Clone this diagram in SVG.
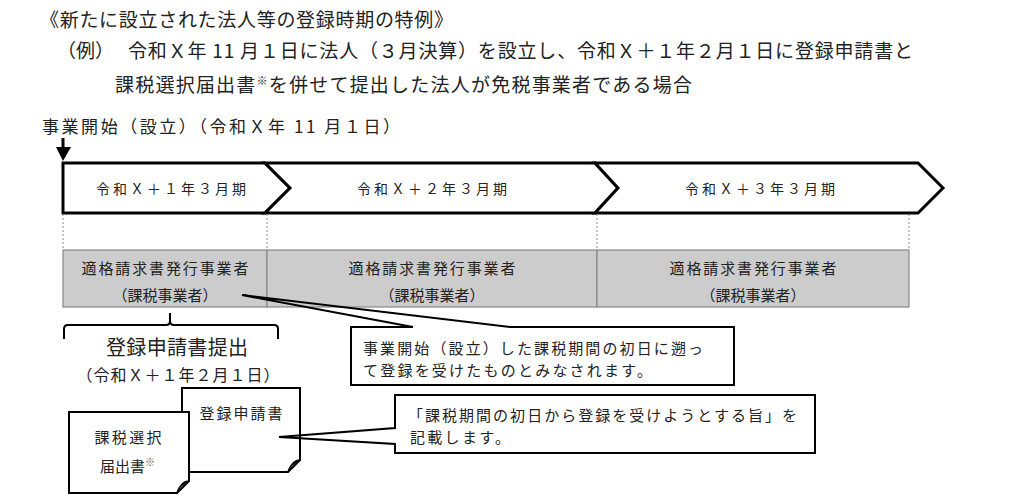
<svg xmlns="http://www.w3.org/2000/svg" width="1024" height="504" viewBox="0 0 1024 504">
<style>
text{font-family:"Noto Sans CJK JP","Noto Sans CJK SC",sans-serif;fill:#222;}
.t18{font-size:19px;}
.t17{font-size:17px;}
.lab{font-size:14px;}
.gb{font-size:15px;}
.chev{fill:#fff;stroke:#000;stroke-width:3;stroke-linejoin:miter;}
.dash{stroke:#888;stroke-width:1;stroke-dasharray:2 2;fill:none;}
.gray{fill:#cccccc;stroke:#888;stroke-width:1.2;}
.ln{fill:none;stroke:#000;stroke-width:2;}
.doc{fill:#fff;stroke:#000;stroke-width:2;stroke-linejoin:miter;}
</style>
<rect width="1024" height="504" fill="#fff"/>

<g id="title">
<text class="t18" x="40" y="27" textLength="413" lengthAdjust="spacing">《新たに設立された法人等の登録時期の特例》</text>
<text class="t18" x="57" y="58">（例）</text>
<text class="t18" x="128" y="58" textLength="785" lengthAdjust="spacing">令和Ｘ年 11 月１日に法人（３月決算）を設立し、令和Ｘ＋１年２月１日に登録申請書と</text>
<text class="t18" x="115" y="92" textLength="577" lengthAdjust="spacing">課税選択届出書<tspan font-size="11" dy="-7">※</tspan><tspan dy="7">を併せて提出した法人が免税事業者である場合</tspan></text>
</g>

<g id="start">
<text class="t17" x="42" y="133" textLength="358" lengthAdjust="spacing">事業開始（設立）（令和Ｘ年 11 月１日）</text>
<line x1="63" y1="138" x2="63" y2="150" stroke="#000" stroke-width="3"/>
<polygon points="56,147 71,147 63,161" fill="#000"/>
</g>

<g id="period1">
<polygon class="chev" points="63,163 265,163 290,188 265,213 63,213"/>
<text class="lab" x="171" y="194" text-anchor="middle" textLength="150" lengthAdjust="spacing">令和Ｘ＋１年３月期</text>
</g>
<g id="period2">
<polygon class="chev" points="265,163 595,163 618,188 595,213 265,213 290,188"/>
<text class="lab" x="432" y="194" text-anchor="middle" textLength="150" lengthAdjust="spacing">令和Ｘ＋２年３月期</text>
</g>
<g id="period3">
<polygon class="chev" points="595,163 918,163 943,188 918,213 595,213 618,188"/>
<text class="lab" x="760" y="194" text-anchor="middle" textLength="150" lengthAdjust="spacing">令和Ｘ＋３年３月期</text>
</g>

<g id="guides">
<line class="dash" x1="63" y1="214" x2="63" y2="250"/>
<line class="dash" x1="267" y1="214" x2="267" y2="250"/>
<line class="dash" x1="597" y1="214" x2="597" y2="250"/>
<line class="dash" x1="909" y1="214" x2="909" y2="250"/>
</g>

<g id="status1">
<rect class="gray" x="63" y="250" width="204" height="57"/>
<text class="gb" x="165" y="274" text-anchor="middle" textLength="167" lengthAdjust="spacing">適格請求書発行事業者</text>
<text class="gb" x="165" y="301" text-anchor="middle">（課税事業者）</text>
</g>
<g id="status2">
<rect class="gray" x="267" y="250" width="330" height="57"/>
<text class="gb" x="432" y="274" text-anchor="middle" textLength="167" lengthAdjust="spacing">適格請求書発行事業者</text>
<text class="gb" x="432" y="301" text-anchor="middle">（課税事業者）</text>
</g>
<g id="status3">
<rect class="gray" x="597" y="250" width="312" height="57"/>
<text class="gb" x="753" y="274" text-anchor="middle" textLength="167" lengthAdjust="spacing">適格請求書発行事業者</text>
<text class="gb" x="753" y="301" text-anchor="middle">（課税事業者）</text>
</g>

<g id="filing">
<path class="ln" d="M64,339 V329 Q64,325 68,325 H166 Q170,325 170,321 V313 M170,321 Q170,325 174,325 H274 Q278,325 278,329 V339"/>
<text x="177" y="355" font-size="20" text-anchor="middle" textLength="142" lengthAdjust="spacing">登録申請書提出</text>
<text x="178" y="381" font-size="16" text-anchor="middle" textLength="203" lengthAdjust="spacing">（令和Ｘ＋１年２月１日）</text>
</g>

<g id="doc-registration">
<path class="doc" d="M182,388 H300 V460 L288,472 H182 Z"/>
<path d="M300,460 Q292,460 288,472 Q290,464 300,460 Z" fill="#000" stroke="#000" stroke-width="1.5"/>
<text class="gb" x="241" y="419" text-anchor="middle" textLength="83" lengthAdjust="spacing">登録申請書</text>
</g>

<g id="doc-election">
<path class="doc" d="M69,412 H189 V481 L177,493 H69 Z"/>
<path d="M189,481 Q181,481 177,493 Q179,485 189,481 Z" fill="#000" stroke="#000" stroke-width="1.5"/>
<text class="gb" x="128" y="443" text-anchor="middle" textLength="67" lengthAdjust="spacing">課税選択</text>
<text class="gb" x="100" y="472">届出書<tspan font-size="10" dy="-6" fill="#555">※</tspan></text>
</g>

<g id="connectors">
<rect x="351" y="327" width="383" height="58" fill="#fff"/>
<path class="ln" d="M413,327 L242,295 L510,327 H734 V385 H351 V327 Z"/>
<rect x="395" y="395" width="420" height="58" fill="#fff"/>
<path class="ln" d="M395,428 V395 H815 V453 H395 V444 L279,437 Z"/>
</g>

<g id="note1">
<text class="gb" x="363" y="354" textLength="340" lengthAdjust="spacing">事業開始（設立）した課税期間の初日に遡っ</text>
<text class="gb" x="363" y="376" textLength="289" lengthAdjust="spacing">て登録を受けたものとみなされます。</text>
</g>
<g id="note2">
<text class="gb" x="408" y="421" textLength="389" lengthAdjust="spacing">「課税期間の初日から登録を受けようとする旨」を</text>
<text class="gb" x="410" y="443" textLength="100" lengthAdjust="spacing">記載します。</text>
</g>
</svg>
